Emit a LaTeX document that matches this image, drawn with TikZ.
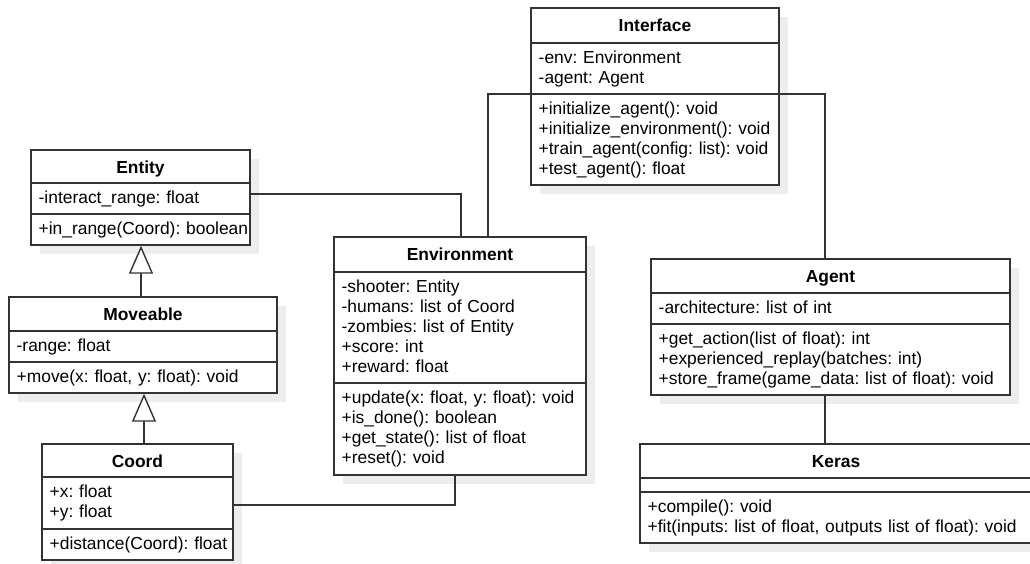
\documentclass[tikz,border=0pt]{standalone}
\usepackage{fontspec}
\setmainfont{Liberation Sans}[WordSpace=1.2]
\usetikzlibrary{arrows.meta,fit}
\frenchspacing
\definecolor{linec}{HTML}{333333}
\definecolor{shadowc}{HTML}{EDEDED}
\tikzset{
  frame/.style={draw=linec, line width=1.4pt, fill=white, inner sep=0pt},
  sepl/.style={draw=linec, line width=1.4pt},
  conn/.style={draw=linec, line width=1.4pt},
  gen/.style={conn, -{Triangle[length=28pt,width=24pt,fill=white]}},
  txt/.style={anchor=base west, inner sep=0pt, font=\fontsize{17.4}{20}\selectfont},
  ttl/.style={anchor=base, inner sep=0pt, font=\fontsize{17.4}{20}\selectfont\bfseries}
}
% name, left, top, right, bottom, title
\newcommand\umlbox[6]{%
  \fill[shadowc] (#2+9,#3+9) rectangle (#4+9,#5+9);
  \node[frame, fit={(#2,#3) (#4,#5)}] (#1) {};
  \node[ttl] at ({(#2+#4)/2},#3+23) {#6};
}
% name, y
\newcommand\umlsep[2]{\draw[sepl] (#1.west |- 0,#2) -- (#1.east |- 0,#2);}
% left, sep y, rows
\newcommand\umlrows[3]{%
  \foreach \rowtext [count=\i] in {#3} \node[txt] at (#1+7.5,{#2+20*\i}) {\rowtext};
}
\begin{document}
\begin{tikzpicture}[x=1pt,y=-1pt]
\useasboundingbox (0,0) rectangle (1030,563);

% Interface
\umlbox{iface}{531}{8}{779}{185}{Interface}
\umlsep{iface}{43}\umlsep{iface}{94}
\umlrows{531}{43}{-env: Environment,-agent: Agent}
\umlrows{531}{94}{+initialize\_agent(): void,+initialize\_environment(): void,{+train\_agent(config: list): void},+test\_agent(): float}

% Entity
\umlbox{entity}{31}{150}{250}{245}{Entity}
\umlsep{entity}{183}\umlsep{entity}{214}
\umlrows{31}{183}{-interact\_range: float}
\umlrows{31}{214}{+in\_range(Coord): boolean}

% Moveable
\umlbox{moveable}{9}{297}{277}{393}{Moveable}
\umlsep{moveable}{331}\umlsep{moveable}{362}
\umlrows{9}{331}{-range: float}
\umlrows{9}{362}{{+move(x: float, y: float): void}}

% Coord
\umlbox{coord}{42}{444}{233}{560}{Coord}
\umlsep{coord}{477}\umlsep{coord}{529}
\umlrows{42}{477}{+x: float,+y: float}
\umlrows{42}{529}{+distance(Coord): float}

% Environment
\umlbox{env}{334}{237}{586}{475}{Environment}
\umlsep{env}{272}\umlsep{env}{383}
\umlrows{334}{272}{-shooter: Entity,-humans: list of Coord,-zombies: list of Entity,+score: int,+reward: float}
\umlrows{334}{383}{{+update(x: float, y: float): void},+is\_done(): boolean,+get\_state(): list of float,+reset(): void}

% Agent
\umlbox{agent}{651}{259}{1010}{395}{Agent}
\umlsep{agent}{293}\umlsep{agent}{324}
\umlrows{651}{293}{-architecture: list of int}
\umlrows{651}{324}{+get\_action(list of float): int,+experienced\_replay(batches: int),+store\_frame(game\_data: list of float): void}

% Keras
\umlbox{keras}{640}{444}{1032}{543}{Keras}
\umlsep{keras}{478}\umlsep{keras}{492}
\umlrows{640}{492}{+compile(): void,{+fit(inputs: list of float, outputs list of float): void}}

% connectors
\draw[conn] (entity.east |- 0,194) -| (env.north -| 461,0);
\draw[conn] (iface.west |- 0,94) -| (env.north -| 488,0);
\draw[conn] (iface.east |- 0,94) -| (agent.north -| 825,0);
\draw[conn] (agent.south -| 825,0) -- (keras.north -| 825,0);
\draw[conn] (env.south -| 455,0) |- (coord.east |- 0,505);
\draw[gen] (moveable.north -| 141,0) -- (entity.south -| 141,0);
\draw[gen] (coord.north -| 144,0) -- (moveable.south -| 144,0);
\end{tikzpicture}
\end{document}
